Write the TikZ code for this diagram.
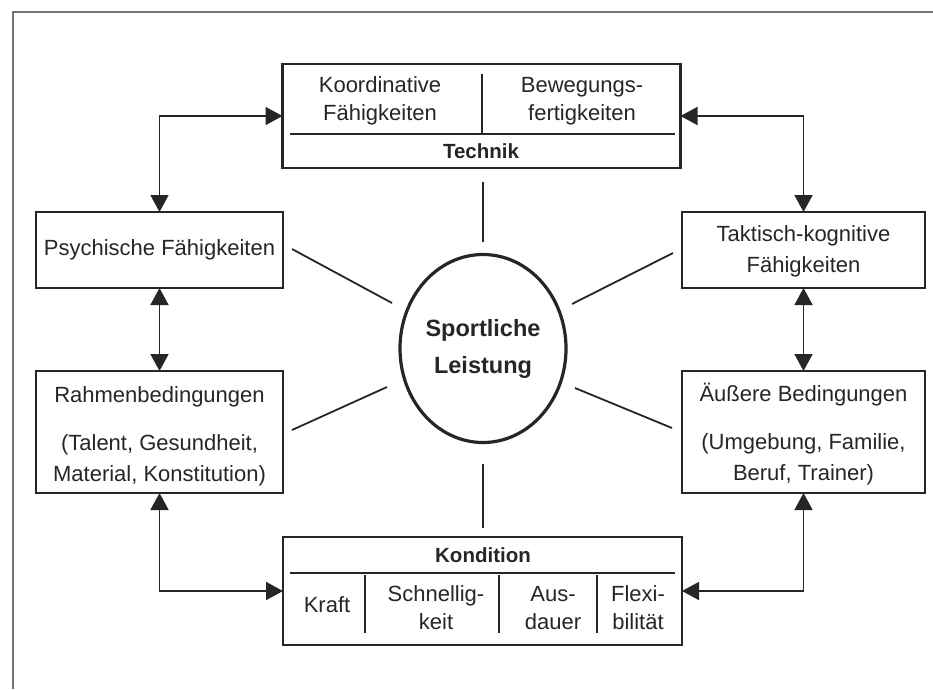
\documentclass[tikz,border=0pt]{standalone}
\usepackage{fontspec}
\setmainfont{Liberation Sans}
\usetikzlibrary{arrows.meta,shapes.geometric}
\definecolor{ink}{gray}{0.15}
\definecolor{framegray}{gray}{0.45}
\tikzset{
  box/.style={draw=ink, line width=2.8pt, inner sep=0pt, outer sep=0pt, rectangle},
  txt/.style={text=ink, align=center, inner sep=0pt, font=\fontsize{22}{28}\selectfont},
  hdr/.style={text=ink, align=center, inner sep=0pt, font=\fontsize{20.5}{25}\selectfont\bfseries},
  divider/.style={draw=ink, line width=1.8pt},
  spoke/.style={draw=ink, line width=1.8pt},
  link/.style={draw=ink, line width=1.7pt, {Triangle[length=17pt,width=18pt]}-{Triangle[length=17pt,width=18pt]}},
  frameline/.style={draw=framegray, line width=1.8pt}
}
\begin{document}
\begin{tikzpicture}[x=1pt,y=-1pt]
\useasboundingbox[fill=white] (0,0) rectangle (933,689);
% outer frame
\draw[frameline] (13,689) -- (13,12) -- (933,12);

% boxes
\node[box, minimum width=398pt, minimum height=104pt] (tech) at (481.5,116) {};
\node[box, minimum width=399pt, minimum height=108pt] (kond) at (482.5,591) {};
\node[box, minimum width=247pt, minimum height=76pt] (psych) at (159.5,250) {};
\node[box, minimum width=243pt, minimum height=76pt] (takt) at (803.5,250) {};
\node[box, minimum width=247pt, minimum height=122pt] (rahmen) at (159.5,432) {};
\node[box, minimum width=243pt, minimum height=122pt] (aeuss) at (803.5,432) {};
\node[draw=ink, line width=3.2pt, ellipse, minimum width=166pt, minimum height=188pt, inner sep=0pt,
      text=ink, align=center, font=\fontsize{23.5}{37}\selectfont\bfseries] (ell) at (483,348.5)
      {Sportliche\\Leistung};

% Technik internals
\draw[divider] (290,134) -- (675,134);
\draw[divider] (482,74) -- (482,134);
\node[txt] (koord) at (380,101) {Koordinative\\Fähigkeiten};
\node[txt] (beweg) at (582,101) {Bewegungs-\\fertigkeiten};
\node[hdr] (technik) at (481,151) {Technik};

% Kondition internals
\draw[divider] (290,573) -- (675,573);
\draw[divider] (365,575) -- (365,633);
\draw[divider] (499,575) -- (499,633);
\draw[divider] (597,575) -- (597,633);
\node[hdr] (kondt) at (483,555) {Kondition};
\node[txt] (kraft) at (327,605) {Kraft};
\node[txt] (schnell) at (436,608) {Schnellig-\\keit};
\node[txt] (aus) at (553,608) {Aus-\\dauer};
\node[txt] (flex) at (638,608) {Flexi-\\bilität};

% side box texts
\node[txt] (psycht) at (159.5,250) {Psychische Fähigkeiten};
\node[txt, font=\fontsize{22}{31}\selectfont] (taktt) at (803.5,251) {Taktisch-kognitive\\Fähigkeiten};
\node[txt, font=\fontsize{22}{31}\selectfont] (rahment) at (159.5,436) {Rahmenbedingungen\\[17pt](Talent, Gesundheit,\\Material, Konstitution)};
\node[txt, font=\fontsize{22}{31}\selectfont] (aeusst) at (803.5,434) {Äußere Bedingungen\\[17pt](Umgebung, Familie,\\Beruf, Trainer)};

% arrows
\draw[link] (psych.north) |- (tech.west);
\draw[link] (tech.east) -| (takt.north);
\draw[link] (psych.south) -- (rahmen.north);
\draw[link] (takt.south) -- (aeuss.north);
\draw[link] (rahmen.south) |- (kond.west);
\draw[link] (aeuss.south) |- (kond.east);

% spokes
\coordinate (t1) at (483,182); \coordinate (t2) at (483,242);
\coordinate (b1) at (483,464); \coordinate (b2) at (483,528);
\coordinate (lu1) at (292,249); \coordinate (lu2) at (392,303);
\coordinate (ru1) at (572,304); \coordinate (ru2) at (673,253);
\coordinate (ll1) at (292,430); \coordinate (ll2) at (387,387);
\coordinate (rl1) at (575,388); \coordinate (rl2) at (672,428);
\draw[spoke] (t1) -- (t2);
\draw[spoke] (b1) -- (b2);
\draw[spoke] (lu1) -- (lu2);
\draw[spoke] (ru1) -- (ru2);
\draw[spoke] (ll1) -- (ll2);
\draw[spoke] (rl1) -- (rl2);
\end{tikzpicture}
\end{document}
